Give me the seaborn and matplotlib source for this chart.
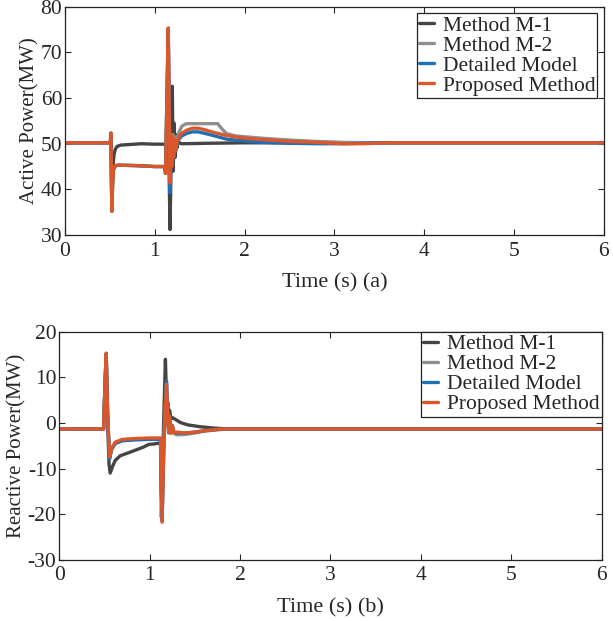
import numpy as np
import pandas as pd
import matplotlib
matplotlib.use("Agg")
import matplotlib.pyplot as plt
import seaborn as sns

labels = ["Method M-1", "Method M-2", "Detailed Model", "Proposed Method"]
colors = ["#444444", "#8f8f8f", "#1f6fb8", "#d9572a"]

# ---- (a) active power ----
p_m1_t = [0, 0.505, 0.512, 0.52, 0.53, 0.545, 0.56, 0.58, 0.62, 0.7, 0.85, 1.0, 1.12,
          1.135, 1.15, 1.17, 1.185, 1.195, 1.205, 1.215, 1.225, 1.235, 1.245, 1.26, 1.3,
          1.6, 2.0, 6]
p_m1_v = [50.2, 50.2, 52.3, 38, 44, 47.5, 48.8, 49.4, 49.7, 49.8, 50.0, 49.9, 49.9,
          47, 55, 31.2, 50, 62.6, 44, 54.5, 47, 52, 49, 50.3, 50.0,
          50.1, 50.2, 50.2]

p_m2_t = [0, 0.505, 0.512, 0.517, 0.522, 0.53, 0.54, 0.56, 0.6, 0.8, 1.0, 1.11, 1.12,
          1.135, 1.15, 1.16, 1.17, 1.18, 1.19, 1.2, 1.21, 1.225, 1.24, 1.27, 1.3, 1.34,
          1.37, 1.7, 1.75, 1.8, 1.9, 2.2, 2.5, 2.8, 3.1, 3.4, 6]
p_m2_v = [50.2, 50.2, 52.3, 43, 35.5, 41, 44.3, 45.2, 45.3, 45.2, 45.0, 45.0, 43.5,
          60, 74, 59.6, 42, 52, 46, 52, 48, 51.5, 50.5, 52.5, 53.8, 54.3,
          54.4, 54.4, 53.2, 52.2, 51.7, 51.2, 50.8, 50.5, 50.3, 50.2, 50.2]

p_dm_t = [0, 0.505, 0.512, 0.517, 0.522, 0.53, 0.54, 0.56, 0.6, 0.8, 1.0, 1.11, 1.12,
          1.135, 1.15, 1.16, 1.17, 1.18, 1.19, 1.2, 1.21, 1.22, 1.235, 1.25, 1.27, 1.3,
          1.36, 1.42, 1.48, 1.55, 1.65, 1.8, 2.0, 2.2, 2.5, 2.8, 3.1, 3.3, 3.6, 6]
p_dm_v = [50.2, 50.2, 52.3, 43, 35.2, 41, 44.3, 45.2, 45.3, 45.2, 45.0, 45.0, 43.5,
          60, 75.0, 58, 39.3, 51, 45.5, 51, 47.5, 50.5, 48.5, 50, 51, 51.7,
          52.3, 52.6, 52.6, 52.3, 51.8, 51.0, 50.6, 50.3, 50.1, 50.0, 50.0, 50.1, 50.2, 50.2]

p_pm_t = [0, 0.505, 0.512, 0.517, 0.522, 0.53, 0.54, 0.56, 0.6, 0.8, 1.0, 1.11, 1.12,
          1.135, 1.15, 1.16, 1.17, 1.18, 1.19, 1.2, 1.21, 1.22, 1.235, 1.25, 1.27, 1.3,
          1.36, 1.42, 1.48, 1.55, 1.65, 1.8, 2.0, 2.2, 2.5, 2.8, 3.1, 3.3, 3.6, 6]
p_pm_v = [50.2, 50.2, 52.3, 43, 35.2, 41, 44.3, 45.2, 45.3, 45.2, 45.0, 45.0, 43.5,
          60, 75.4, 58, 41.4, 52, 45, 51.5, 47, 51, 48.5, 50.5, 51.5, 52.3,
          53.0, 53.4, 53.4, 53.1, 52.5, 51.8, 51.2, 50.9, 50.5, 50.3, 50.0, 50.0, 50.2, 50.2]

# ---- (b) reactive power ----
q_m1_t = [0, 0.49, 0.505, 0.519, 0.535, 0.55, 0.563, 0.59, 0.62, 0.674, 0.785, 0.93,
          0.99, 1.05, 1.11, 1.12, 1.13, 1.15, 1.174, 1.19, 1.2, 1.21, 1.22, 1.235, 1.25,
          1.3, 1.34, 1.42, 1.55, 1.7, 1.86, 6]
q_m1_v = [-1.3, -1.3, 8, 15.0, 0, -9, -11.0, -9.5, -8.2, -7.2, -6.4, -5.3,
          -4.7, -4.6, -4.4, -4.4, -20.7, -3, 14.0, 2.5, 4.5, 1.5, 2.8, 1.0, 1.2,
          0.6, 0.1, -0.4, -0.8, -1.1, -1.3, -1.3]

q_m2_t = [0, 0.49, 0.505, 0.519, 0.535, 0.556, 0.58, 0.62, 0.7, 0.85, 1.0, 1.11, 1.12,
          1.137, 1.16, 1.186, 1.2, 1.21, 1.22, 1.235, 1.25, 1.27, 1.3, 1.4, 1.5, 1.6,
          1.75, 1.9, 6]
q_m2_v = [-1.3, -1.3, 8, 15.3, 2, -7.8, -5.6, -4.3, -3.7, -3.5, -3.4, -3.4, -3.4,
          -21.5, -2, 8.8, 1.2, -2.2, 1.0, -2.0, -0.8, -2.3, -2.6, -2.5, -2.2, -1.8,
          -1.5, -1.3, -1.3]

q_dm_t = [0, 0.49, 0.505, 0.519, 0.535, 0.556, 0.58, 0.62, 0.7, 0.85, 1.0, 1.11, 1.12,
          1.137, 1.16, 1.186, 1.2, 1.21, 1.22, 1.235, 1.25, 1.27, 1.3, 1.4, 1.5, 1.6,
          1.75, 1.9, 6]
q_dm_v = [-1.3, -1.3, 8, 15.3, 2, -7.9, -5.8, -4.5, -3.9, -3.7, -3.6, -3.6, -3.6,
          -21.5, -2, 9.2, 1.0, -2.1, 1.3, -2.1, -0.6, -2.1, -2.2, -2.2, -2.0, -1.7,
          -1.4, -1.3, -1.3]

q_pm_t = [0, 0.49, 0.505, 0.519, 0.535, 0.556, 0.58, 0.62, 0.7, 0.85, 1.0, 1.11, 1.12,
          1.137, 1.16, 1.186, 1.2, 1.21, 1.22, 1.235, 1.25, 1.27, 1.3, 1.4, 1.5, 1.6,
          1.75, 1.9, 6]
q_pm_v = [-1.3, -1.3, 8, 15.3, 2, -7.5, -5.5, -4.2, -3.6, -3.4, -3.3, -3.3, -3.3,
          -21.8, -2, 8.5, 1.2, -2.0, 1.5, -2.3, -0.5, -2.2, -2.0, -2.2, -2.0, -1.7,
          -1.4, -1.3, -1.3]


def long_frame(series):
    parts = []
    for name, t, v in series:
        parts.append(pd.DataFrame({"t": t, "v": v, "series": name}))
    return pd.concat(parts, ignore_index=True)


def draw_panel(ax, df, ylim, yticks, xlabel, ylabel, legend_pad):
    sns.lineplot(data=df, x="t", y="v", hue="series", hue_order=labels,
                 palette=colors, estimator=None, sort=False, linewidth=2.4, ax=ax)
    ax.set_xlim(0, 6)
    ax.set_ylim(*ylim)
    ax.set_xticks(range(0, 7))
    ax.set_yticks(yticks)
    ax.set_xlabel(xlabel, fontsize=16, labelpad=9)
    ax.set_ylabel(ylabel, fontsize=15, labelpad=1)
    ax.tick_params(direction="in", top=True, right=True, labelsize=15.5, length=4,
                   width=0.8)
    ax.tick_params(axis="x", pad=5)
    ax.tick_params(axis="y", pad=2)
    for sp in ax.spines.values():
        sp.set_linewidth(0.9)
        sp.set_color("#222222")
    leg = ax.legend(loc="upper right", fontsize=15.5, frameon=True, fancybox=False,
                    framealpha=1, edgecolor="#222222", handlelength=0.7,
                    handletextpad=0.4, labelspacing=0.0, borderpad=0.1,
                    borderaxespad=legend_pad)
    leg.get_frame().set_linewidth(0.9)
    for h in leg.get_lines():
        h.set_linewidth(2.4)


def main():
    sns.set_theme(style="ticks")
    plt.rcParams["font.family"] = ["Liberation Serif", "DejaVu Serif"]
    plt.rcParams["axes.unicode_minus"] = False

    fig = plt.figure(figsize=(6.13, 6.21), dpi=100)
    ax1 = fig.add_axes([0.106, 0.6216, 0.879, 0.3674])
    ax2 = fig.add_axes([0.0967, 0.099, 0.8849, 0.3664])

    active = long_frame([
        (labels[0], p_m1_t, p_m1_v),
        (labels[1], p_m2_t, p_m2_v),
        (labels[2], p_dm_t, p_dm_v),
        (labels[3], p_pm_t, p_pm_v),
    ])
    reactive = long_frame([
        (labels[0], q_m1_t, q_m1_v),
        (labels[1], q_m2_t, q_m2_v),
        (labels[2], q_dm_t, q_dm_v),
        (labels[3], q_pm_t, q_pm_v),
    ])

    draw_panel(ax1, active, (30, 80), range(30, 81, 10),
               "Time (s) (a)", "Active Power(MW)", 0.3)
    draw_panel(ax2, reactive, (-30, 20), range(-30, 21, 10),
               "Time (s) (b)", "Reactive Power(MW)", 0.0)

    fig.savefig("out.png", dpi=100)


if __name__ == "__main__":
    main()
